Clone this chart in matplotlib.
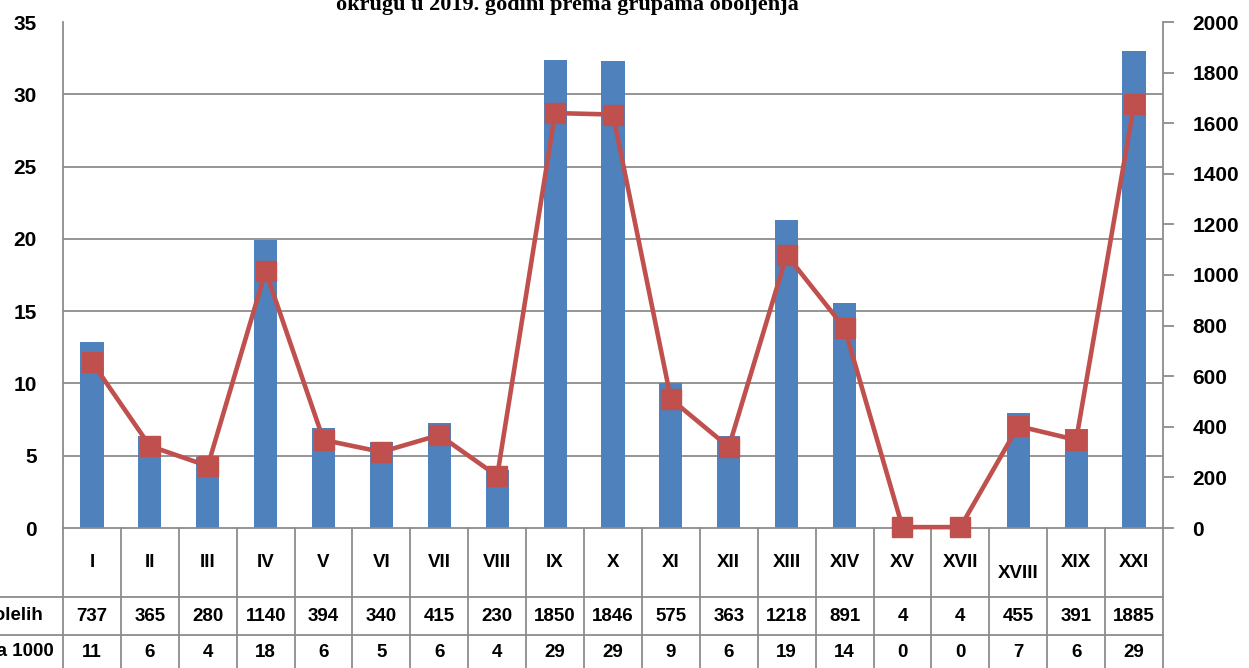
import numpy as np
import matplotlib
matplotlib.use("Agg")
import matplotlib.pyplot as plt
from matplotlib.transforms import blended_transform_factory

plt.rcParams["font.family"] = ["Liberation Sans", "DejaVu Sans"]
plt.rcParams["font.weight"] = "bold"

# data
groups = ["I", "II", "III", "IV", "V", "VI", "VII", "VIII", "IX", "X",
          "XI", "XII", "XIII", "XIV", "XV", "XVII", "XVIII", "XIX", "XXI"]
cases = [737, 365, 280, 1140, 394, 340, 415, 230, 1850, 1846,
         575, 363, 1218, 891, 4, 4, 455, 391, 1885]
rates = [11.48, 5.67, 4.29, 17.77, 6.09, 5.26, 6.43, 3.6, 28.7, 28.6,
         8.92, 5.6, 18.88, 13.83, 0.06, 0.06, 7.05, 6.09, 29.3]
rate_labels = [11, 6, 4, 18, 6, 5, 6, 4, 29, 29, 9, 6, 19, 14, 0, 0, 7, 6, 29]
row_names = ["Broj obolelih", "Stopa na 1000"]
title = "okrugu u 2019. godini prema grupama oboljenja"

bar_c = "#4F81BD"
line_c = "#C0504D"
grid_c = "#8C8C8C"

W, H = 1249, 668
fig = plt.figure(figsize=(W / 100, H / 100), dpi=100)
ax = fig.add_axes([63 / W, (H - 528) / H, 1100 / W, 506 / H])
ax2 = ax.twinx()

x = np.arange(len(groups))

# bars -> right axis (counts)
ax.bar(x, cases, width=0.4, color=bar_c, zorder=2)
ax.set_xlim(-0.5, len(groups) - 0.5)
ax.set_ylim(0, 2000)
ax.yaxis.tick_right()
ax.set_yticks(np.arange(0, 2001, 200))
ax.set_yticks(np.linspace(0, 2000, 8), minor=True)
ax.tick_params(axis="y", which="major", length=8, width=1.3, color=grid_c,
               pad=13, labelsize=15)
ax.tick_params(axis="y", which="minor", length=0)
ax.grid(axis="y", which="minor", color=grid_c, lw=1.3)
ax.set_axisbelow(True)
ax.set_xticks([])
ax.spines["top"].set_visible(False)
for s in ["left", "right", "bottom"]:
    ax.spines[s].set_color(grid_c)
    ax.spines[s].set_linewidth(1.3)

# line -> left axis (rate)
ax2.plot(x, rates, color=line_c, lw=3.3, marker="s", ms=14,
         markeredgecolor=line_c, clip_on=False, zorder=3)
ax2.set_ylim(0, 35)
ax2.yaxis.tick_left()
ax2.set_yticks(range(0, 36, 5))
ax2.tick_params(axis="y", length=0, pad=19, labelsize=15)
for s in ax2.spines.values():
    s.set_visible(False)

# data table under the chart
trans = blended_transform_factory(ax.transData, ax.transAxes)
row_b = [-0.1364, -0.2115]
for i in range(len(groups) + 1):
    ax.plot([i - 0.5, i - 0.5], [0, -0.32], transform=trans, color=grid_c,
            lw=1.3, clip_on=False)
for yb in row_b:
    ax.plot([-0.06, 1], [yb, yb], transform=ax.transAxes, color=grid_c,
            lw=1.3, clip_on=False)

fs = 13.5
for i, g in enumerate(groups):
    yy = -0.09 if g == "XVIII" else -0.068
    ax.text(i, yy, g, transform=trans, ha="center", va="center",
            fontsize=fs, fontweight="bold")
    ax.text(i, -0.174, str(cases[i]), transform=trans, ha="center",
            va="center", fontsize=fs, fontweight="bold")
    ax.text(i, -0.247, str(rate_labels[i]), transform=trans, ha="center",
            va="center", fontsize=fs, fontweight="bold")

fig.text(43 / W, 1 - 616 / H, row_names[0], ha="right", va="center",
         fontsize=fs, fontweight="bold")
fig.text(54 / W, 1 - 652 / H, row_names[1], ha="right", va="center",
         fontsize=fs, fontweight="bold")

fig.text(567 / W, 1 - 10 / H, title, ha="center", va="baseline",
         family="Liberation Serif", fontweight="bold", fontsize=16)

fig.savefig("out.png", dpi=100)
